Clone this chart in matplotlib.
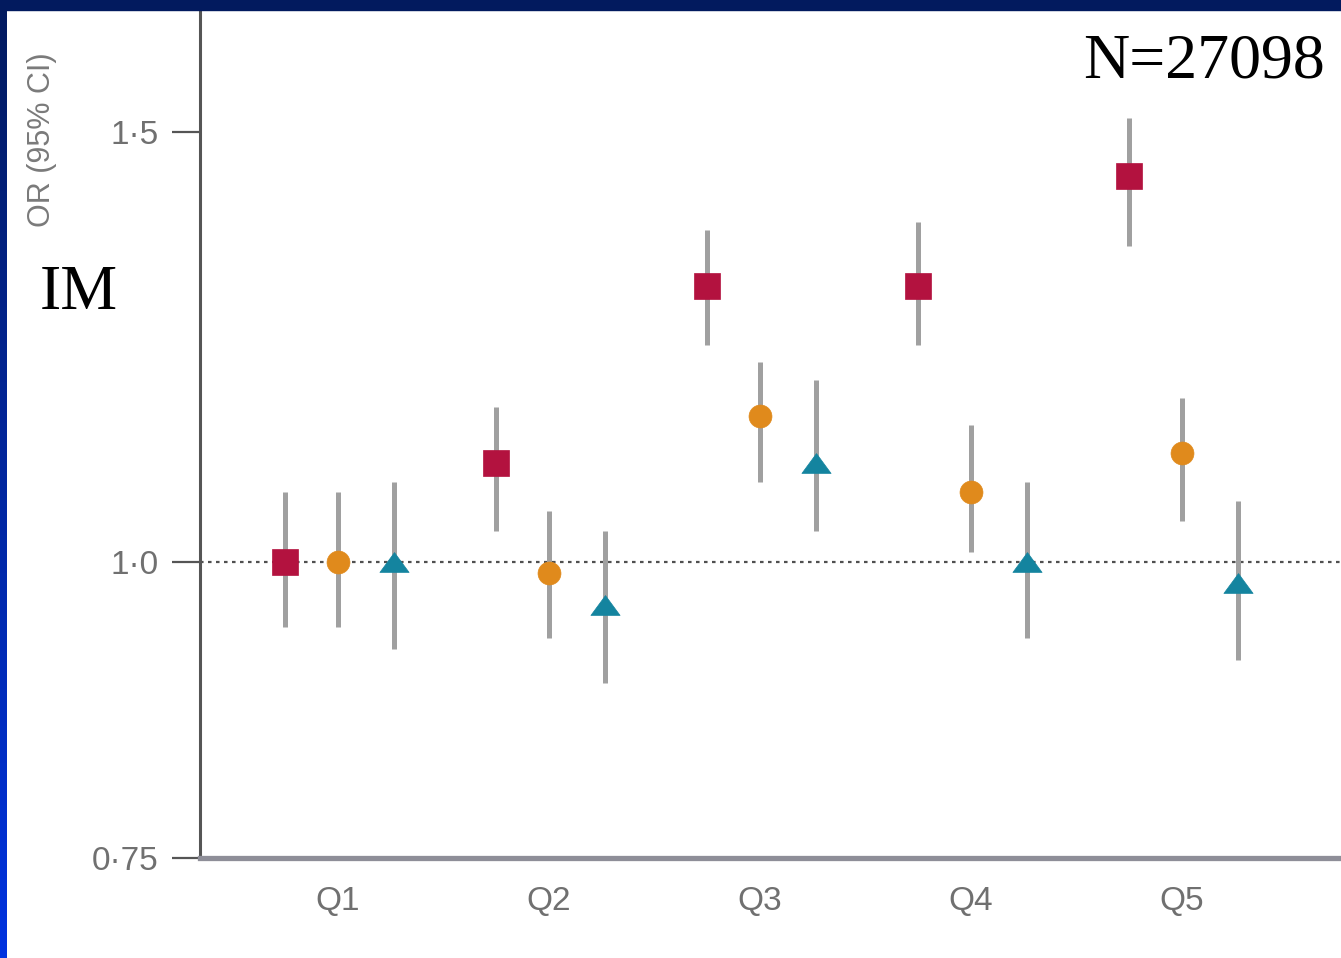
import numpy as np
import matplotlib
matplotlib.use('Agg')
import matplotlib.pyplot as plt
from matplotlib.path import Path
from matplotlib.patches import Rectangle
from matplotlib.colors import LinearSegmentedColormap
from matplotlib.ticker import FixedLocator, FixedFormatter, NullLocator

# odds ratios by quintile, three models
quintiles = ["Q1", "Q2", "Q3", "Q4", "Q5"]

square_or = [1.00, 1.10, 1.30, 1.30, 1.44]
square_lo = [0.94, 1.03, 1.23, 1.23, 1.35]
square_hi = [1.07, 1.16, 1.37, 1.38, 1.52]

circle_or = [1.00, 0.99, 1.15, 1.07, 1.11]
circle_lo = [0.94, 0.93, 1.08, 1.01, 1.04]
circle_hi = [1.07, 1.05, 1.21, 1.14, 1.17]

triangle_or = [1.00, 0.96, 1.10, 1.00, 0.98]
triangle_lo = [0.92, 0.89, 1.03, 0.93, 0.91]
triangle_hi = [1.08, 1.03, 1.19, 1.08, 1.06]

y_ticks = [0.75, 1.0, 1.5]
y_tick_labels = ["0·75", "1·0", "1·5"]

W, H = 1341, 958
fig = plt.figure(figsize=(W / 100, H / 100), dpi=100)
fig.patch.set_facecolor('white')

ax = fig.add_axes([200 / W, 100 / H, 1141 / W, 848 / H])

# compressed (near-log) odds-ratio axis
p = 0.09
ax.set_yscale('function',
              functions=(lambda v: np.power(np.clip(v, 1e-6, None), p),
                         lambda t: np.power(np.clip(t, 1e-6, None), 1 / p)))
ax.set_ylim(0.75, 1.679)
ax.set_xlim(0.346, 5.754)

xs = np.arange(1, len(quintiles) + 1)

tri = Path([(-1, -0.68), (1, -0.68), (0, 0.68), (-1, -0.68)],
           [Path.MOVETO, Path.LINETO, Path.LINETO, Path.CLOSEPOLY])

series = [
    (square_or, square_lo, square_hi, -0.25, 's', 18.5, '#b3123f'),
    (circle_or, circle_lo, circle_hi, 0.0, 'o', 16.5, '#e08a1c'),
    (triangle_or, triangle_lo, triangle_hi, 0.265, tri, 21, '#14849f'),
]

ax.axhline(1.0, color='#505050', lw=1.6, ls=(0, (1.6, 2.0)), zorder=1)

for vals, lo, hi, off, mk, ms, col in series:
    vals = np.array(vals)
    err = [vals - np.array(lo), np.array(hi) - vals]
    ax.errorbar(xs + off, vals, yerr=err, fmt='none', ecolor='#a0a0a0',
                elinewidth=3.6, capsize=0, zorder=2)
    ax.plot(xs + off, vals, ls='none', marker=mk, ms=ms, color=col,
            mec=col, mew=0.5, zorder=3)

for side in ('top', 'right'):
    ax.spines[side].set_visible(False)
ax.spines['left'].set_color('#555555')
ax.spines['left'].set_linewidth(2.2)
ax.spines['bottom'].set_color('#8e8e98')
ax.spines['bottom'].set_linewidth(3.8)

ax.yaxis.set_major_locator(FixedLocator(y_ticks))
ax.yaxis.set_major_formatter(FixedFormatter(y_tick_labels))
ax.yaxis.set_minor_locator(NullLocator())
ax.tick_params(axis='y', length=20, width=1.6, color='#555555',
               labelsize=24, labelcolor='#707070', pad=10)
for lab in ax.get_yticklabels():
    lab.set_family('Liberation Sans')

ax.set_xticks(xs, quintiles)
ax.tick_params(axis='x', length=0, pad=20, labelsize=24, labelcolor='#707070')
for lab in ax.get_xticklabels():
    lab.set_family('Liberation Sans')

fig.text(42 / W, 1 - 140 / H, 'OR (95% CI)', rotation=90, ha='center',
         va='center', fontsize=22, color='#7a7a7a', family='Liberation Sans')
fig.text(40 / W, 1 - 294 / H, 'IM', ha='left', va='center', fontsize=46,
         family='Liberation Serif', color='black')
fig.text(1325 / W, 1 - 62 / H, 'N=27098', ha='right', va='center',
         fontsize=46, family='Liberation Serif', color='black')

# slide frame: navy bar on top, blue gradient strip on the left
fig.patches.append(Rectangle((0, 1 - 10 / H), 1, 10 / H,
                             transform=fig.transFigure, color='#021a5e',
                             zorder=5))
gax = fig.add_axes([0, 0, 7 / W, 1])
cmap = LinearSegmentedColormap.from_list('frame', ['#021a5e', '#0033e0'])
gax.imshow(np.linspace(0, 1, 256).reshape(-1, 1), aspect='auto', cmap=cmap)
gax.axis('off')

fig.savefig('out.png', dpi=100)
